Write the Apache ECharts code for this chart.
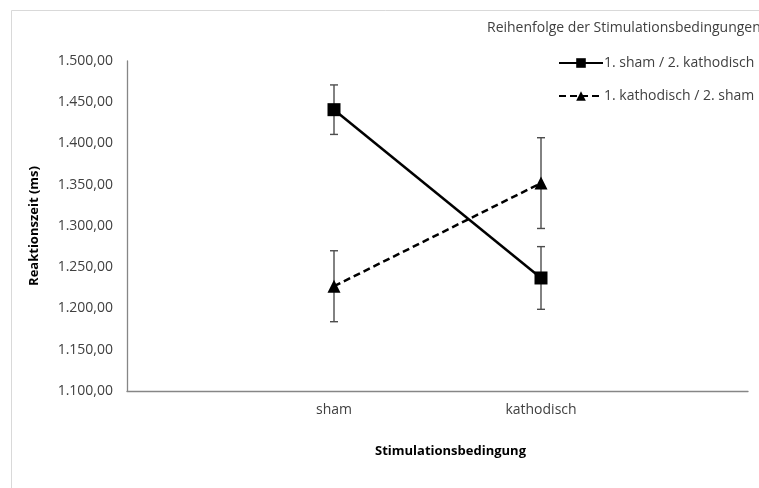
<!DOCTYPE html>
<html>
<head>
<meta charset="utf-8">
<script src="https://cdn.jsdelivr.net/npm/echarts@6/dist/echarts.min.js"></script>
<style>
html,body{margin:0;padding:0;background:#fff;}
#chart{width:759px;height:488px;}
</style>
</head>
<body>
<div id="chart"></div>
<script>
// Stimulation conditions on the x axis
const categories = ['sham', 'kathodisch'];
// Mean reaction times (ms) per stimulation order
const seriesNames = ['1. sham / 2. kathodisch', '1. kathodisch / 2. sham'];
const meansShamFirst = [1441, 1237];
const meansKathFirst = [1227, 1352];
// Error bar half-widths (ms)
const errShamFirst = [30, 38];
const errKathFirst = [43, 55];
// y tick range
const yMin = 1100, yMax = 1500, yStep = 50;

const FONT = 'Open Sans';
const fmt = v => {
  const s = v.toFixed(2).split('.');
  return s[0].replace(/\B(?=(\d{3})+(?!\d))/g, '.') + ',' + s[1];
};

// categories sit at x = 1 and 2 on a 0..3 scale
const toPoints = means => means.map((m, i) => [i + 1, m]);
const toBars = (means, errs) => means.map((m, i) => [i + 1, m - errs[i], m + errs[i]]);

function errorBar(params, api) {
  const x = api.value(0);
  const lo = api.coord([x, api.value(1)]);
  const hi = api.coord([x, api.value(2)]);
  const w = 4;
  const st = { stroke: '#4d4d4d', lineWidth: 1.4 };
  return {
    type: 'group',
    children: [
      { type: 'line', shape: { x1: lo[0], y1: lo[1], x2: hi[0], y2: hi[1] }, style: st },
      { type: 'line', shape: { x1: lo[0] - w, y1: lo[1], x2: lo[0] + w, y2: lo[1] }, style: st },
      { type: 'line', shape: { x1: hi[0] - w, y1: hi[1], x2: hi[0] + w, y2: hi[1] }, style: st }
    ]
  };
}

const chart = echarts.init(document.getElementById('chart'), null, { renderer: 'canvas' });
chart.setOption({
  animation: false,
  backgroundColor: '#fff',
  graphic: [
    { type: 'rect', shape: { x: 11.5, y: 10.5, width: 800, height: 600 },
      style: { fill: 'none', stroke: '#d9d9d9', lineWidth: 1 }, z: -10 },
    { type: 'text', left: 487, top: 21,
      style: { text: 'Reihenfolge der Stimulationsbedingungen', font: '14px "' + FONT + '"', fill: '#404040' } }
  ],
  grid: { left: 127, right: 11, top: 61, bottom: 97 },
  legend: {
    orient: 'vertical', left: 553, top: 51, itemGap: 19, itemWidth: 44, itemHeight: 12,
    textStyle: { fontFamily: FONT, fontSize: 14, color: '#404040', padding: [0, 0, 0, -4] },
    data: seriesNames
  },
  xAxis: {
    type: 'value', min: 0, max: 3, interval: 1,
    name: 'Stimulationsbedingung', nameLocation: 'middle', nameGap: 54,
    nameTextStyle: { fontFamily: FONT, fontSize: 13, fontWeight: 'bold', color: '#000', padding: [0, 0, 0, 26] },
    axisLine: { lineStyle: { color: '#868686', width: 1.3 } },
    axisTick: { show: false },
    splitLine: { show: false },
    axisLabel: {
      margin: 12, fontFamily: FONT, fontSize: 14, color: '#404040',
      formatter: v => categories[v - 1] || ''
    }
  },
  yAxis: {
    type: 'value', min: yMin, max: yMax, interval: yStep,
    name: 'Reaktionszeit (ms)', nameLocation: 'middle', nameGap: 86,
    nameTextStyle: { fontFamily: FONT, fontSize: 13, fontWeight: 'bold', color: '#000' },
    axisLine: { show: true, lineStyle: { color: '#868686', width: 1.3 } },
    axisTick: { show: false },
    splitLine: { show: false },
    axisLabel: { margin: 14, fontFamily: FONT, fontSize: 14, color: '#404040', formatter: fmt }
  },
  series: [
    { type: 'custom', renderItem: errorBar, data: toBars(meansShamFirst, errShamFirst), z: 1, silent: true },
    { type: 'custom', renderItem: errorBar, data: toBars(meansKathFirst, errKathFirst), z: 1, silent: true },
    {
      name: seriesNames[0], type: 'line', data: toPoints(meansShamFirst), z: 3,
      symbol: 'rect', symbolSize: 13, showAllSymbol: true,
      lineStyle: { color: '#000', width: 2.5 }, itemStyle: { color: '#000' }
    },
    {
      name: seriesNames[1], type: 'line', data: toPoints(meansKathFirst), z: 3,
      symbol: 'triangle', symbolSize: 13, showAllSymbol: true,
      lineStyle: { color: '#000', width: 2.5, type: [7, 4] }, itemStyle: { color: '#000' }
    }
  ]
});
</script>
</body>
</html>
